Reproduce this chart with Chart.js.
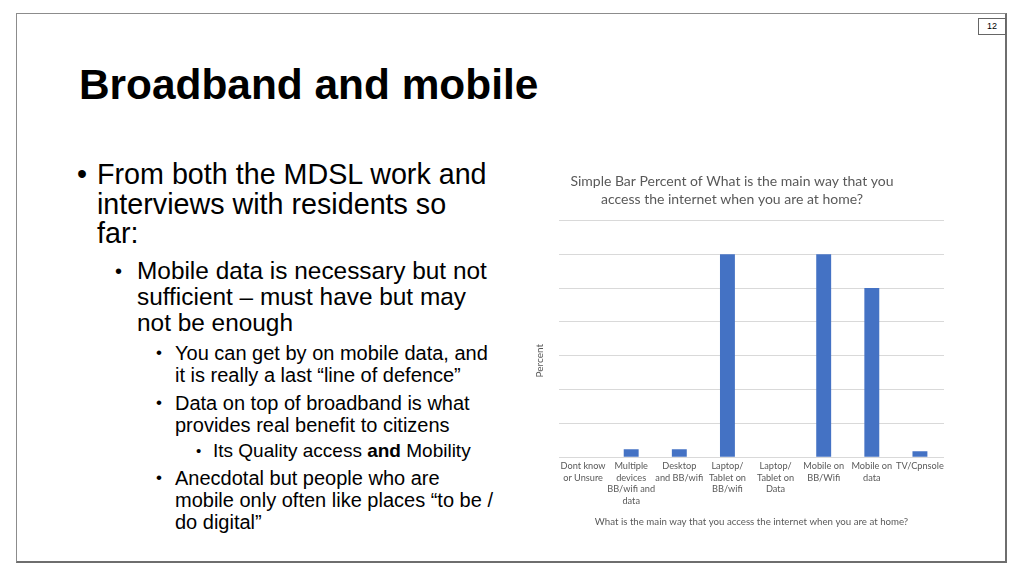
<!DOCTYPE html>
<html>
<head>
<meta charset="utf-8">
<script src="https://cdn.jsdelivr.net/npm/chart.js@4.4.1/dist/chart.umd.min.js"></script>
<style>
  html, body { margin: 0; padding: 0; background: #fff; }
  body { width: 1024px; height: 575px; position: relative; overflow: hidden; font-family: "Liberation Sans", Arial, sans-serif; color: #000; }
  .frame { position: absolute; left: 16px; top: 13px; width: 991px; height: 550px; border: 1px solid #8c8c8c; border-right: 2px solid #6e6e6e; border-bottom: 2px solid #6e6e6e; box-sizing: border-box; }
  .pagenum { position: absolute; left: 978px; top: 18px; width: 28px; height: 17px; border: 1px solid #666; box-sizing: border-box; font-size: 9px; line-height: 15px; text-align: center; }
  h1 { position: absolute; left: 79px; top: 60px; margin: 0; font-size: 42.4px; font-weight: bold; line-height: 50px; white-space: nowrap; }
  .p { position: absolute; white-space: nowrap; }
  .p .b { position: absolute; }
  .l1 { left: 97px; font-size: 28.7px; line-height: 29.5px; }
  .l1 .b { left: -20px; }
  .l2 { left: 137px; font-size: 24.4px; line-height: 26px; }
  .l2 .b { left: -22px; font-size: 20px; }
  .l3 { left: 175px; font-size: 20px; line-height: 22px; }
  .l3 .b { left: -19px; font-size: 17px; }
  .l4 { left: 213px; font-size: 19px; line-height: 22px; }
  .l4 .b { left: -17px; font-size: 15px; }
  #chartBox { position: absolute; left: 515px; top: 165px; width: 440px; height: 372px; }
</style>
</head>
<body>
<div class="frame"></div>
<div class="pagenum">12</div>
<h1>Broadband and mobile</h1>

<div class="p l1" style="top:160px"><span class="b">•</span>From both the MDSL work and<br>interviews with residents so<br>far:</div>
<div class="p l2" style="top:258px"><span class="b">•</span>Mobile data is necessary but not<br>sufficient – must have but may<br>not be enough</div>
<div class="p l3" style="top:342px"><span class="b">•</span>You can get by on mobile data, and<br>it is really a last “line of defence”</div>
<div class="p l3" style="top:392px"><span class="b">•</span>Data on top of broadband is what<br>provides real benefit to citizens</div>
<div class="p l4" style="top:440px"><span class="b">•</span>Its Quality access <b>and</b> Mobility</div>
<div class="p l3" style="top:467px"><span class="b">•</span>Anecdotal but people who are<br>mobile only often like places “to be /<br>do digital”</div>

<div id="chartBox"><canvas id="accessChart"></canvas></div>

<script>
// access method categories (multi-line tick labels)
const categories = [
  ["Dont know", "or Unsure"],
  ["Multiple", "devices", "BB/wifi and", "data"],
  ["Desktop", "and BB/wifi"],
  ["Laptop/", "Tablet on", "BB/wifi"],
  ["Laptop/", "Tablet on", "Data"],
  ["Mobile on", "BB/Wifi"],
  ["Mobile on", "data"],
  ["TV/Cpnsole"],
];

// percent of respondents
const percentValues = [0, 1.2, 1.2, 30, 0, 30, 25, 0.9];

const chartTitle = [
  "Simple Bar Percent of What is the main way that you",
  "access the internet when you are at home?",
];
const xTitle = "What is the main way that you access the internet when you are at home?";
const yTitle = "Percent";

const yMax = 35;
const yStep = 5;

function buildChart(ctx) {
  const grey = "#595959";
  new Chart(ctx, {
    type: "bar",
    data: {
      labels: categories,
      datasets: [{
        label: yTitle,
        data: percentValues,
        backgroundColor: "#4472C4",
        borderWidth: 0,
        barPercentage: 0.31,
        categoryPercentage: 1,
      }],
    },
    options: {
      responsive: true,
      maintainAspectRatio: false,
      animation: false,
      layout: { padding: { left: 5, right: 11, top: 0, bottom: 5 } },
      plugins: {
        legend: { display: false },
        tooltip: { enabled: false },
        title: {
          display: true,
          text: chartTitle,
          color: grey,
          font: { family: "Lato", size: 14, weight: "normal", lineHeight: 1.3 },
          padding: { top: 7, bottom: 12 },
        },
      },
      scales: {
        x: {
          grid: { display: false, drawTicks: false },
          border: { display: false },
          ticks: {
            color: grey,
            font: { family: "Lato", size: 9.2, lineHeight: 1.25 },
            maxRotation: 0,
            autoSkip: false,
            padding: 3,
          },
          title: {
            display: true,
            text: xTitle,
            color: grey,
            font: { family: "Lato", size: 9.7 },
            padding: { top: 7, bottom: 4 },
          },
        },
        y: {
          min: 0,
          max: yMax,
          ticks: { display: false, stepSize: yStep },
          grid: { color: "#d9d9d9", lineWidth: 1, drawTicks: false },
          border: { display: false },
          title: {
            display: true,
            // trailing spaces nudge the rotated label down, as in the original
            text: yTitle + "\u00a0".repeat(17),
            color: grey,
            font: { family: "Lato", size: 10 },
            padding: { top: 14, bottom: 13 },
          },
        },
      },
    },
  });
}

buildChart(document.getElementById("accessChart").getContext("2d"));
</script>
</body>
</html>
